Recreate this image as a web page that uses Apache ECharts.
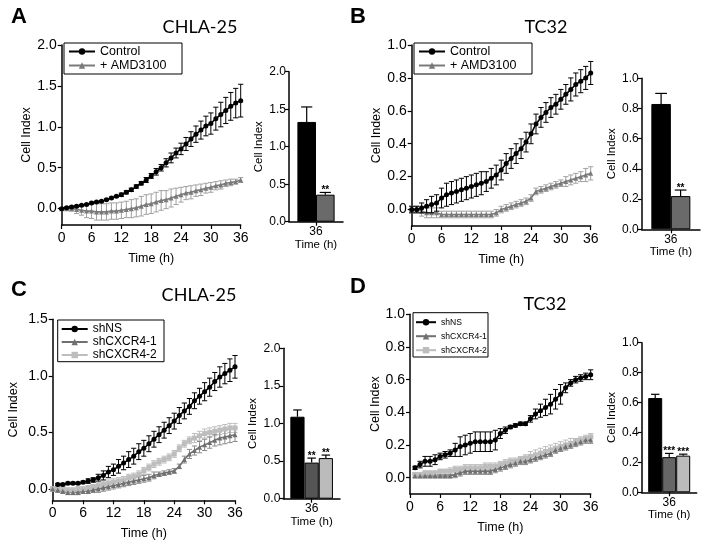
<!DOCTYPE html>
<html><head><meta charset="utf-8">
<script src="https://cdn.jsdelivr.net/npm/echarts@6/dist/echarts.min.js"></script>
<style>html,body{margin:0;padding:0;background:#fff}#c{width:705px;height:547px}</style>
</head><body><div id="c"></div>
<script>
// ---------- data ----------
const tA = [0,1,2,3,4,5,6,7,8,9,10,11,12,13,14,15,16,17,18,19,20,21,22,23,24,25,26,27,28,29,30,31,32,33,34,35,36];
const tD = [1,2,3,4,5,6,7,8,9,10,11,12,13,14,15,16,17,18,19,20,21,22,23,24,25,26,27,28,29,30,31,32,33,34,35,36];

const aCtrl    = [0.00,0.01,0.02,0.03,0.04,0.05,0.07,0.08,0.09,0.11,0.13,0.15,0.17,0.20,0.23,0.27,0.31,0.35,0.40,0.45,0.50,0.56,0.62,0.68,0.73,0.79,0.85,0.91,0.96,1.01,1.04,1.10,1.15,1.20,1.25,1.29,1.32];
const aCtrlErr = [0.01,0.01,0.01,0.01,0.01,0.01,0.01,0.01,0.01,0.01,0.01,0.01,0.02,0.02,0.02,0.02,0.02,0.03,0.03,0.04,0.04,0.05,0.06,0.06,0.07,0.08,0.09,0.10,0.11,0.12,0.13,0.14,0.15,0.16,0.17,0.18,0.20];
const aAmd     = [0.00,0.00,0.00,-0.01,-0.02,-0.03,-0.03,-0.04,-0.04,-0.04,-0.03,-0.03,-0.02,-0.01,0.00,0.01,0.03,0.05,0.06,0.08,0.10,0.11,0.13,0.15,0.17,0.19,0.20,0.22,0.23,0.25,0.26,0.28,0.29,0.31,0.32,0.33,0.35];
const aAmdErr  = [0.01,0.02,0.03,0.05,0.06,0.08,0.09,0.10,0.10,0.10,0.10,0.10,0.10,0.10,0.11,0.11,0.12,0.12,0.12,0.12,0.12,0.11,0.11,0.10,0.09,0.08,0.08,0.07,0.07,0.06,0.06,0.05,0.05,0.04,0.04,0.03,0.03];

const bCtrl    = [0.00,0.00,0.01,0.02,0.03,0.04,0.07,0.09,0.10,0.11,0.12,0.13,0.14,0.15,0.16,0.17,0.19,0.21,0.24,0.28,0.31,0.34,0.37,0.41,0.46,0.52,0.56,0.59,0.62,0.64,0.67,0.70,0.73,0.76,0.78,0.80,0.83];
const bCtrlErr = [0.02,0.02,0.03,0.04,0.05,0.05,0.06,0.07,0.07,0.07,0.07,0.07,0.07,0.07,0.07,0.06,0.06,0.06,0.06,0.06,0.06,0.06,0.06,0.06,0.06,0.06,0.06,0.06,0.06,0.06,0.06,0.06,0.07,0.07,0.07,0.07,0.07];
const bAmd     = [0.00,0.00,-0.01,-0.02,-0.02,-0.02,-0.03,-0.03,-0.03,-0.03,-0.03,-0.03,-0.03,-0.03,-0.03,-0.03,-0.03,-0.02,0.00,0.01,0.02,0.03,0.04,0.05,0.07,0.11,0.12,0.13,0.14,0.15,0.16,0.17,0.18,0.19,0.20,0.21,0.22];
const bAmdErr  = [0.02,0.02,0.03,0.03,0.03,0.03,0.02,0.02,0.02,0.02,0.02,0.02,0.02,0.02,0.02,0.02,0.02,0.02,0.02,0.02,0.02,0.02,0.02,0.02,0.02,0.02,0.02,0.02,0.02,0.02,0.02,0.03,0.03,0.03,0.03,0.04,0.04];

const cNS      = [null,0.04,0.04,0.05,0.05,0.05,0.06,0.07,0.08,0.10,0.12,0.15,0.17,0.20,0.23,0.26,0.29,0.33,0.36,0.40,0.44,0.48,0.52,0.56,0.60,0.65,0.69,0.73,0.78,0.82,0.86,0.90,0.95,0.99,1.02,1.05,1.08];
const cNSErr   = [null,0.01,0.01,0.01,0.01,0.01,0.01,0.02,0.02,0.03,0.04,0.05,0.05,0.06,0.06,0.07,0.07,0.07,0.07,0.07,0.07,0.07,0.07,0.07,0.07,0.07,0.07,0.07,0.07,0.07,0.08,0.08,0.08,0.09,0.09,0.10,0.10];
const cX1      = [0.00,-0.01,-0.02,-0.03,-0.03,-0.03,-0.02,-0.02,-0.01,0.00,0.01,0.02,0.03,0.04,0.05,0.06,0.07,0.08,0.09,0.10,0.12,0.13,0.14,0.15,0.16,0.20,0.26,0.31,0.34,0.37,0.39,0.41,0.43,0.45,0.46,0.47,0.48];
const cX1Err   = [0.01,0.02,0.02,0.02,0.02,0.02,0.02,0.02,0.02,0.03,0.03,0.03,0.03,0.03,0.03,0.03,0.03,0.03,0.03,0.03,0.03,0.02,0.02,0.02,0.02,0.02,0.03,0.04,0.04,0.05,0.05,0.05,0.05,0.06,0.06,0.06,0.06];
const cX2      = [0.00,0.00,0.00,-0.01,-0.01,0.00,0.00,0.01,0.02,0.03,0.04,0.05,0.06,0.07,0.08,0.10,0.11,0.13,0.16,0.19,0.22,0.24,0.26,0.28,0.31,0.36,0.40,0.43,0.45,0.47,0.49,0.50,0.51,0.52,0.53,0.54,0.54];
const cX2Err   = [0.02,0.02,0.02,0.02,0.02,0.02,0.02,0.02,0.02,0.03,0.03,0.03,0.03,0.03,0.03,0.03,0.03,0.03,0.03,0.03,0.03,0.03,0.03,0.03,0.03,0.03,0.03,0.03,0.04,0.04,0.04,0.04,0.04,0.04,0.04,0.04,0.04];

const dNS      = [0.06,0.08,0.10,0.10,0.11,0.13,0.14,0.15,0.17,0.19,0.20,0.21,0.22,0.22,0.22,0.22,0.23,0.27,0.29,0.31,0.32,0.33,0.33,0.36,0.39,0.41,0.43,0.45,0.48,0.51,0.55,0.58,0.60,0.61,0.62,0.63];
const dNSErr   = [0.01,0.02,0.03,0.03,0.03,0.02,0.02,0.02,0.04,0.06,0.06,0.06,0.06,0.06,0.06,0.06,0.06,0.03,0.02,0.01,0.01,0.01,0.01,0.02,0.03,0.04,0.05,0.06,0.06,0.06,0.03,0.02,0.02,0.02,0.02,0.03];
const dX1      = [0.01,0.01,0.01,0.01,0.01,0.01,0.01,0.01,0.02,0.03,0.04,0.04,0.04,0.04,0.04,0.04,0.05,0.06,0.07,0.08,0.09,0.10,0.10,0.11,0.12,0.13,0.14,0.15,0.17,0.18,0.19,0.20,0.21,0.22,0.23,0.23];
const dX1Err   = [0.01,0.01,0.01,0.01,0.01,0.01,0.01,0.01,0.02,0.02,0.02,0.02,0.02,0.02,0.02,0.02,0.02,0.02,0.02,0.02,0.02,0.02,0.02,0.02,0.02,0.02,0.02,0.02,0.02,0.02,0.02,0.02,0.02,0.02,0.02,0.02];
const dX2      = [0.02,0.02,0.03,0.03,0.03,0.04,0.04,0.04,0.05,0.05,0.06,0.06,0.06,0.06,0.07,0.07,0.07,0.08,0.09,0.10,0.10,0.11,0.12,0.13,0.14,0.15,0.16,0.17,0.18,0.19,0.20,0.21,0.22,0.23,0.24,0.25];
const dX2Err   = [0.01,0.01,0.01,0.01,0.01,0.01,0.01,0.02,0.02,0.02,0.02,0.02,0.02,0.02,0.02,0.02,0.02,0.02,0.02,0.02,0.02,0.02,0.02,0.03,0.03,0.03,0.03,0.03,0.03,0.03,0.03,0.03,0.02,0.02,0.02,0.02];

const barCat = ['36'];
const barA = [1.33, 0.36],  barAErr = [0.20, 0.03],  starsA = ['', '**'];
const barB = [0.83, 0.22],  barBErr = [0.07, 0.04],  starsB = ['', '**'];
const barC = [1.09, 0.48, 0.54], barCErr = [0.09, 0.06, 0.04], starsC = ['', '**', '**'];
const barD = [0.63, 0.235, 0.245], barDErr = [0.025, 0.025, 0.01], starsD = ['', '***', '***'];

const ticksA = [0, 0.5, 1.0, 1.5, 2.0];
const ticksB = [0, 0.2, 0.4, 0.6, 0.8, 1.0];
const ticksC = [0, 0.5, 1.0, 1.5];
const ticksD = [0, 0.2, 0.4, 0.6, 0.8, 1.0];

// ---------- chart ----------
const FF = 'Liberation Sans, Arial, sans-serif';
const chart = echarts.init(document.getElementById('c'), null, {renderer: 'canvas'});

const grids = [
  {left: 61.7, top: 45,    width: 179,   height: 180},   // A line
  {left: 411.7,top: 45,    width: 179,   height: 181},   // B line
  {left: 52.7, top: 319.3, width: 182.3, height: 181},   // C line
  {left: 410,  top: 314.3, width: 180.7, height: 179.7}, // D line
  {left: 289,  top: 71.7,  width: 54,    height: 150},   // A bar
  {left: 641.7,top: 78.3,  width: 58.3,  height: 151},   // B bar
  {left: 283.3,top: 348.3, width: 56.7,  height: 150.4}, // C bar
  {left: 641.7,top: 342.7, width: 55,    height: 149.6}  // D bar
];

const axLine = {show: true, onZero: false, lineStyle: {color: '#000', width: 1.5}};
const axTick = {show: true, length: 4, inside: false, lineStyle: {color: '#000', width: 1.2}};

function lineX(i) {
  return {gridIndex: i, type: 'value', min: 0, max: 36, interval: 6,
    axisLine: axLine, axisTick: axTick, splitLine: {show: false},
    axisLabel: {fontSize: 14, color: '#000', fontFamily: FF, margin: 6},
    name: 'Time (h)', nameLocation: 'middle', nameGap: 27,
    nameTextStyle: {fontSize: 12.5, color: '#000', fontFamily: FF}};
}
function lineY(i, min, max, ticks, gap) {
  return {gridIndex: i, type: 'value', min: min, max: max,
    axisLine: axLine, axisTick: Object.assign({}, axTick, {customValues: ticks}), splitLine: {show: false},
    axisLabel: {customValues: ticks, formatter: v => v.toFixed(1), fontSize: 14, color: '#000', fontFamily: FF, margin: 5},
    name: 'Cell Index', nameLocation: 'middle', nameGap: gap,
    nameTextStyle: {fontSize: 12.5, color: '#000', fontFamily: FF}};
}
function barX(i) {
  return {gridIndex: i, type: 'category', data: barCat,
    axisLine: axLine, axisTick: Object.assign({}, axTick, {alignWithLabel: true}),
    axisLabel: {fontSize: 12, color: '#000', fontFamily: FF, margin: 4},
    name: 'Time (h)', nameLocation: 'middle', nameGap: 17,
    nameTextStyle: {fontSize: 11.5, color: '#000', fontFamily: FF}};
}
function barY(i, max, ticks) {
  return {gridIndex: i, type: 'value', min: 0, max: max, interval: ticks[1],
    axisLine: axLine, axisTick: axTick, splitLine: {show: false},
    axisLabel: {formatter: v => v.toFixed(1), fontSize: 12, color: '#000', fontFamily: FF, margin: 3},
    name: 'Cell Index', nameLocation: 'middle', nameGap: 24,
    nameTextStyle: {fontSize: 11.5, color: '#000', fontFamily: FF}};
}

function pairs(t, v) {
  const out = [];
  for (let i = 0; i < t.length; i++) if (v[i] !== null) out.push([t[i], v[i]]);
  return out;
}
function errData(t, v, e) {
  const out = [];
  for (let i = 0; i < t.length; i++) if (v[i] !== null) out.push([t[i], v[i] - e[i], v[i] + e[i]]);
  return out;
}
function lineS(name, gi, t, v, color, symbol, size, z) {
  return {type: 'line', name: name, xAxisIndex: gi, yAxisIndex: gi, data: pairs(t, v),
    symbol: symbol, symbolSize: size, showSymbol: true, animation: false, z: z,
    lineStyle: {color: color, width: 1.6}, itemStyle: {color: color}};
}
function errS(gi, t, v, e, color, z) {
  return {type: 'custom', xAxisIndex: gi, yAxisIndex: gi, data: errData(t, v, e), z: z,
    encode: {x: 0, y: [1, 2]}, animation: false, silent: true,
    renderItem: function (params, api) {
      const x = api.value(0);
      const a = api.coord([x, api.value(1)]), b = api.coord([x, api.value(2)]);
      const cap = 2.6, st = {stroke: color, lineWidth: 1};
      return {type: 'group', children: [
        {type: 'line', shape: {x1: a[0], y1: a[1], x2: b[0], y2: b[1]}, style: st},
        {type: 'line', shape: {x1: a[0] - cap, y1: a[1], x2: a[0] + cap, y2: a[1]}, style: st},
        {type: 'line', shape: {x1: b[0] - cap, y1: b[1], x2: b[0] + cap, y2: b[1]}, style: st}
      ]};
    }};
}
function barS(gi, name, v, color, bw) {
  return {type: 'bar', name: name, xAxisIndex: gi, yAxisIndex: gi, data: [v], barWidth: bw, barGap: '0%',
    animation: false, itemStyle: {color: color, borderColor: '#000', borderWidth: 1}};
}
function barErrS(gi, vals, errs, stars, bw) {
  const n = vals.length;
  return {type: 'custom', xAxisIndex: gi, yAxisIndex: gi, z: 5, animation: false, silent: true,
    data: vals.map((v, k) => [0, v, errs[k]]), encode: {x: 0, y: 1},
    renderItem: function (params, api) {
      const k = params.dataIndex;
      const v = api.value(1), e = api.value(2);
      const p0 = api.coord([0, v]), p1 = api.coord([0, v + e]);
      const cx = p0[0] + (k - (n - 1) / 2) * bw;
      const cap = bw * 0.3, st = {stroke: '#000', lineWidth: 1.2};
      return {type: 'group', children: [
        {type: 'line', shape: {x1: cx, y1: p0[1], x2: cx, y2: p1[1]}, style: st},
        {type: 'line', shape: {x1: cx - cap, y1: p1[1], x2: cx + cap, y2: p1[1]}, style: st},
        {type: 'text', x: cx, y: p1[1] + 3, style: {text: stars[k], align: 'center', verticalAlign: 'bottom',
          fontSize: 10, fontWeight: 'bold', fill: '#000', fontFamily: FF}}
      ]};
    }};
}

const legendBase = {orient: 'vertical', borderWidth: 0, itemWidth: 26, itemHeight: 8, itemGap: 1,
  textStyle: {color: '#000', fontFamily: FF, fontSize: 12.5}};

const gray = '#7a7a7a', lightGray = '#bdbdbd', darkGray = '#707070';
const titleFont = 'Lato, Open Sans, sans-serif';
function letter(t, x, y) {
  return {type: 'text', x: x, y: y, style: {text: t, fontSize: 22, fontWeight: 'bold', fontFamily: FF, fill: '#000', align: 'center', verticalAlign: 'middle'}};
}
function ttl(t, x, y) {
  return {type: 'text', x: x, y: y, style: {text: t, fontSize: 18, fontFamily: titleFont, fill: '#000', align: 'center', verticalAlign: 'middle'}};
}
function box(x, y, w, h) {
  return {type: 'rect', shape: {x: x, y: y, width: w, height: h}, style: {fill: 'none', stroke: '#000', lineWidth: 1}, z: 100};
}

const option = {
  backgroundColor: '#fff',
  animation: false,
  grid: grids,
  xAxis: [lineX(0), lineX(1), lineX(2), lineX(3), barX(4), barX(5), barX(6), barX(7)],
  yAxis: [lineY(0, -0.2, 2.0, ticksA, 27), lineY(1, -0.1, 1.0, ticksB, 27), lineY(2, -0.1, 1.5, ticksC, 33), lineY(3, -0.1, 1.0, ticksD, 27),
          barY(4, 2.0, ticksA), barY(5, 1.0, ticksB), barY(6, 2.0, ticksA), barY(7, 1.0, ticksD)],
  legend: [
    Object.assign({}, legendBase, {left: 64, top: 43, padding: [2, 4, 1, 4], data: ['Control', '+ AMD3100']}),
    Object.assign({}, legendBase, {left: 414, top: 43, padding: [2, 4, 1, 4], data: ['Control', '+ AMD3100']}),
    Object.assign({}, legendBase, {left: 57.7, top: 320, padding: [3, 4, 3, 3], data: ['shNS', 'shCXCR4-1', 'shCXCR4-2'],
      textStyle: {color: '#000', fontFamily: FF, fontSize: 12, lineHeight: 12}}),
    Object.assign({}, legendBase, {left: 413, top: 312.7, padding: [3, 1, 3, 2], itemWidth: 20, data: ['shNS', 'shCXCR4-1', 'shCXCR4-2'],
      textStyle: {color: '#000', fontFamily: FF, fontSize: 8.6, lineHeight: 13}})
  ],
  graphic: [
    letter('A', 19, 17), letter('B', 358, 17), letter('C', 19, 290), letter('D', 358, 287),
    ttl('CHLA-25', 200, 27), ttl('TC32', 546, 27), ttl('CHLA-25', 199, 295), ttl('TC32', 545, 304),
    box(64, 43, 118, 31), box(414, 43, 118, 31), box(57.7, 320, 106.3, 41.7), box(413, 312.7, 75, 44.3)
  ],
  series: [
    // A
    errS(0, tA, aAmd, aAmdErr, '#a0a0a0', 2),
    lineS('+ AMD3100', 0, tA, aAmd, gray, 'triangle', 5, 3),
    errS(0, tA, aCtrl, aCtrlErr, '#000', 4),
    lineS('Control', 0, tA, aCtrl, '#000', 'circle', 5, 5),
    // B
    errS(1, tA, bAmd, bAmdErr, '#a0a0a0', 2),
    lineS('+ AMD3100', 1, tA, bAmd, gray, 'triangle', 5, 3),
    errS(1, tA, bCtrl, bCtrlErr, '#000', 4),
    lineS('Control', 1, tA, bCtrl, '#000', 'circle', 5, 5),
    // C
    errS(2, tA, cX2, cX2Err, lightGray, 2),
    lineS('shCXCR4-2', 2, tA, cX2, lightGray, 'rect', 5, 3),
    errS(2, tA, cX1, cX1Err, '#8a8a8a', 2),
    lineS('shCXCR4-1', 2, tA, cX1, darkGray, 'triangle', 5, 3),
    errS(2, tA, cNS, cNSErr, '#000', 4),
    lineS('shNS', 2, tA, cNS, '#000', 'circle', 5, 5),
    // D
    errS(3, tD, dX2, dX2Err, lightGray, 2),
    lineS('shCXCR4-2', 3, tD, dX2, lightGray, 'rect', 5, 3),
    errS(3, tD, dX1, dX1Err, '#8a8a8a', 2),
    lineS('shCXCR4-1', 3, tD, dX1, darkGray, 'triangle', 5, 3),
    errS(3, tD, dNS, dNSErr, '#000', 4),
    lineS('shNS', 3, tD, dNS, '#000', 'circle', 5, 5),
    // bars
    barS(4, 'A1', barA[0], '#000', 18.6), barS(4, 'A2', barA[1], '#6a6a6a', 18.6), barErrS(4, barA, barAErr, starsA, 18.6),
    barS(5, 'B1', barB[0], '#000', 19.5), barS(5, 'B2', barB[1], '#6a6a6a', 19.5), barErrS(5, barB, barBErr, starsB, 19.5),
    barS(6, 'C1', barC[0], '#000', 14.2), barS(6, 'C2', barC[1], '#555', 14.2), barS(6, 'C3', barC[2], '#bbb', 14.2), barErrS(6, barC, barCErr, starsC, 14.2),
    barS(7, 'D1', barD[0], '#000', 14), barS(7, 'D2', barD[1], '#666', 14), barS(7, 'D3', barD[2], '#bbb', 14), barErrS(7, barD, barDErr, starsD, 14)
  ]
};
chart.setOption(option);
</script>
</body></html>
